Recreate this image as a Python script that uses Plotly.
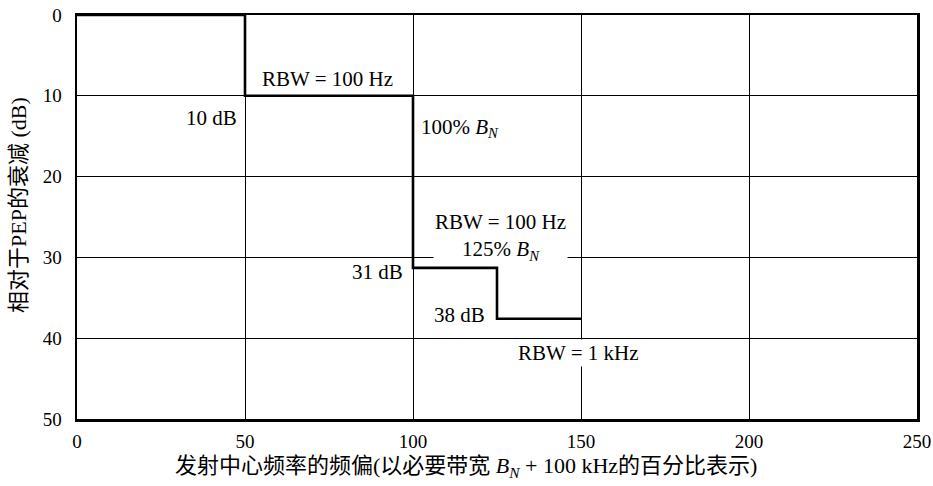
import plotly.graph_objects as go

# Data
step_x = [0, 50, 100, 125, 150]          # % offset breakpoints
step_y = [0, 10, 31.3, 37.6, 37.6]       # attenuation (dB)
x_ticks = [0, 50, 100, 150, 200, 250]
y_ticks = [0, 10, 20, 30, 40, 50]

FONT = "'Liberation Serif', 'Times New Roman', 'Noto Sans CJK SC', serif"
BN = "<i>B</i><sub><i>N</i></sub>"

fig = go.Figure()
fig.add_trace(go.Scatter(
    x=step_x, y=step_y, mode="lines", line_shape="hv",
    line=dict(color="black", width=2.6), cliponaxis=False, showlegend=False,
    hoverinfo="skip"))

ann = [
    dict(x=50, y=12.7, text="10 dB", xanchor="right", xshift=-6),
    dict(x=74.5, y=7.9, text="RBW = 100 Hz", xanchor="center"),
    dict(x=100, y=14.0, text="100% " + BN, xanchor="left", xshift=6),
    dict(x=126, y=27.5, text="RBW = 100 Hz<br>125% " + BN, xanchor="center",
         bgcolor="white", borderpad=1),
    dict(x=100, y=31.8, text="31 dB", xanchor="right", xshift=-8),
    dict(x=125, y=37.1, text="38 dB", xanchor="right", xshift=-10),
    dict(x=149.2, y=41.8, text="RBW = 1 kHz", xanchor="center",
         bgcolor="white", borderpad=1),
]
for a in ann:
    a.update(xref="x", yref="y", showarrow=False, yanchor="middle",
             font=dict(family=FONT, size=21, color="black"))
    fig.add_annotation(**a)

W, H = 933, 486
L, R, T, B = 77, 16, 15, 67
pw, ph = W - L - R, H - T - B

def px_x(px):
    return (px - L) / pw

def px_y(py):  # py measured from top of the image
    return (H - py - B) / ph

fig.add_annotation(
    x=px_x(466), y=px_y(467), xref="paper", yref="paper", showarrow=False,
    xanchor="center", yanchor="middle",
    text="发射中心频率的频偏(以必要带宽 " + BN + " + 100 kHz的百分比表示)",
    font=dict(family=FONT, size=22, color="black"))
fig.add_annotation(
    x=px_x(18), y=px_y(205), xref="paper", yref="paper", showarrow=False,
    xanchor="center", yanchor="middle",
    text="相对于PEP的衰减 (dB)", textangle=-90,
    font=dict(family=FONT, size=22, color="black"))

tickfont = dict(family=FONT, size=19, color="black", weight="normal")
fig.update_layout(
    width=W, height=H, margin=dict(l=L, r=R, t=T, b=B, autoexpand=False),
    paper_bgcolor="white", plot_bgcolor="white",
    font=dict(family=FONT, size=19, color="black"),
    xaxis=dict(range=[0, 250], tickvals=x_ticks, showgrid=True,
               gridcolor="black", gridwidth=1, zeroline=False,
               showline=True, linecolor="black", linewidth=2.5, mirror=True,
               ticks="", ticklabelstandoff=4, automargin=False,
               tickfont=tickfont, fixedrange=True),
    yaxis=dict(range=[50, 0], tickvals=y_ticks, showgrid=True,
               gridcolor="black", gridwidth=1, zeroline=False,
               showline=True, linecolor="black", linewidth=2.5, mirror=True,
               ticks="", ticklabelstandoff=9, automargin=False,
               tickfont=tickfont, fixedrange=True),
)

fig.write_html(
    "out.html",
    config={"displayModeBar": False, "staticPlot": True},
    post_script="document.body.style.margin='0';"
                "document.body.style.overflow='hidden';",
)
